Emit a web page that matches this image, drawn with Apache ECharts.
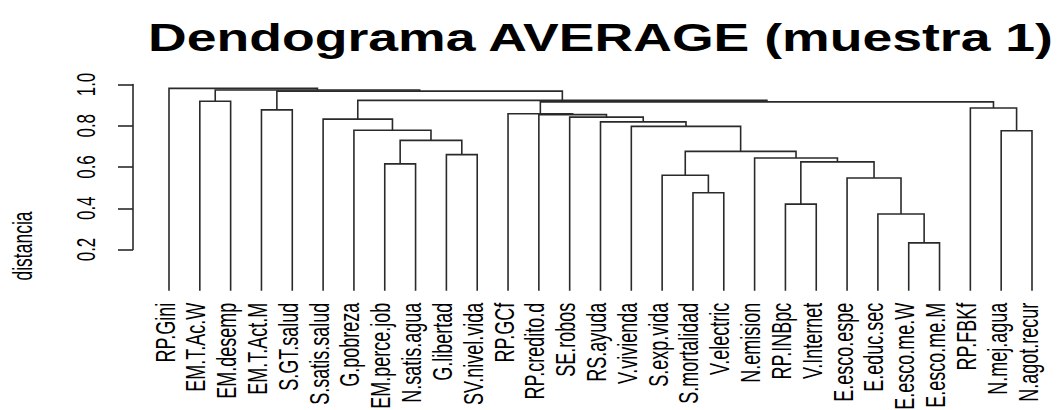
<!DOCTYPE html>
<html>
<head>
<meta charset="utf-8">
<script src="https://cdn.jsdelivr.net/npm/echarts@6/dist/echarts.min.js"></script>
<style>
  html, body { margin: 0; padding: 0; background: #fff; }
  #chart { width: 1060px; height: 410px; }
</style>
</head>
<body>
<div id="chart"></div>
<script>
// Leaves in the order they are drawn, left to right
const leaves = [
  'RP.Gini', 'EM.T.Ac.W', 'EM.desemp', 'EM.T.Act.M', 'S.GT.salud', 'S.satis.salud',
  'G.pobreza', 'EM.perce.job', 'N.satis.agua', 'G.libertad', 'SV.nivel.vida',
  'RP.GCf', 'RP.credito.d', 'SE.robos', 'RS.ayuda', 'V.vivienda', 'S.exp.vida',
  'S.mortalidad', 'V.electric', 'N.emision', 'RP.INBpc', 'V.Internet',
  'E.esco.espe', 'E.educ.sec', 'E.esco.me.W', 'E.esco.me.M', 'RP.FBKf',
  'N.mej.agua', 'N.agot.recur'
];

// Merge steps (hclust convention): negative = leaf number, positive = earlier step
const mergeLeft  = [-25, -24, -21, -18, -23, -17, -8, 3, -20, -10, 6, 7, -28, -7,
                    -16, -15, -6, -14, -13, -12, -4, -27, 20, -2, 17, 21, 24, -1];
const mergeRight = [-26, 1, -22, -19, 2, 4, -9, 5, 8, -11, 9, 10, -29, 12,
                    11, 15, 14, 16, 18, 19, -5, 13, 22, -3, 23, 25, 26, 27];
const mergeHeight = [0.232, 0.372, 0.420, 0.475, 0.547, 0.560, 0.615, 0.625, 0.644,
                     0.660, 0.676, 0.729, 0.776, 0.778, 0.797, 0.819, 0.832, 0.842,
                     0.854, 0.858, 0.877, 0.886, 0.916, 0.919, 0.923, 0.968, 0.973, 0.981];

const yTicks = [0.2, 0.4, 0.6, 0.8, 1.0];
const titleText = 'Dendograma AVERAGE (muestra 1)';
const yTitle = 'distancia';

// Node layout: each merge sits halfway between its two children
const nodeX = [];
function member(ref) {
  return ref < 0 ? [-ref - 1, 0] : [nodeX[ref - 1], mergeHeight[ref - 1]];
}
const links = mergeLeft.map(function (l, k) {
  const a = member(l), b = member(mergeRight[k]);
  nodeX.push((a[0] + b[0]) / 2);
  return [a[0], a[1], b[0], b[1], mergeHeight[k]];
});

const FONT = '"Liberation Sans", Arial, Helvetica, sans-serif';
const INK = '#2a2a2a';
const STRETCH = 1.55;

const chart = echarts.init(document.getElementById('chart'), null, { renderer: 'svg' });

chart.setOption({
  animation: false,
  backgroundColor: '#fff',
  grid: [
    { left: 133, top: 84.5, width: 10, height: 165 },
    { left: 169, right: 28, top: 84.5, height: 165 }
  ],
  xAxis: [
    { gridIndex: 0, type: 'value', min: 0, max: 1, show: false },
    { gridIndex: 1, type: 'value', min: 0, max: leaves.length - 1, show: false }
  ],
  yAxis: [
    {
      gridIndex: 0, type: 'value', position: 'left',
      min: yTicks[0], max: yTicks[yTicks.length - 1], interval: 0.2,
      axisLine: { show: true, lineStyle: { color: INK, width: 1.6 } },
      axisTick: { show: true, length: 15, lineStyle: { color: INK, width: 1.6 } },
      axisLabel: { show: false },
      splitLine: { show: false }
    },
    {
      gridIndex: 1, type: 'value',
      min: yTicks[0], max: yTicks[yTicks.length - 1], show: false
    }
  ],
  graphic: [
    {
      type: 'text', x: 600.5, y: 38, scaleX: 1.41,
      style: {
        text: titleText, fill: '#000', font: 'bold 38px ' + FONT,
        align: 'center', verticalAlign: 'middle'
      }
    },
    {
      type: 'text', x: 22, y: 246, rotation: Math.PI / 2, scaleY: STRETCH,
      style: {
        text: yTitle, fill: '#000', font: '17.5px ' + FONT,
        align: 'center', verticalAlign: 'middle'
      }
    }
  ],
  series: [
    {
      // tree branches
      type: 'custom',
      xAxisIndex: 1, yAxisIndex: 1,
      clip: false,
      encode: { x: [0, 2], y: [1, 3, 4] },
      data: links,
      renderItem: function (params, api) {
        const p1 = api.coord([api.value(0), api.value(1)]);
        const p2 = api.coord([api.value(0), api.value(4)]);
        const p3 = api.coord([api.value(2), api.value(4)]);
        const p4 = api.coord([api.value(2), api.value(3)]);
        return {
          type: 'polyline',
          shape: { points: [p1, p2, p3, p4] },
          style: { stroke: INK, lineWidth: 1.6, fill: null }
        };
      }
    },
    {
      // leaf names under each branch
      type: 'custom',
      xAxisIndex: 1, yAxisIndex: 1,
      clip: false,
      data: leaves.map(function (n, i) { return [i, 0]; }),
      renderItem: function (params, api) {
        const p = api.coord([api.value(0), api.value(1)]);
        return {
          type: 'text',
          x: p[0] - 4, y: p[1] + 12,
          rotation: Math.PI / 2, scaleY: STRETCH,
          style: {
            text: leaves[params.dataIndex], fill: '#000', font: '18px ' + FONT,
            align: 'right', verticalAlign: 'middle'
          }
        };
      }
    },
    {
      // distance tick labels beside the axis
      type: 'custom',
      xAxisIndex: 0, yAxisIndex: 0,
      clip: false,
      data: yTicks.map(function (v) { return [0, v]; }),
      renderItem: function (params, api) {
        const p = api.coord([0, api.value(1)]);
        return {
          type: 'text',
          x: p[0] - 47, y: p[1],
          rotation: Math.PI / 2, scaleY: STRETCH,
          style: {
            text: yTicks[params.dataIndex].toFixed(1), fill: '#000', font: '17px ' + FONT,
            align: 'center', verticalAlign: 'middle'
          }
        };
      }
    }
  ]
});
</script>
</body>
</html>
